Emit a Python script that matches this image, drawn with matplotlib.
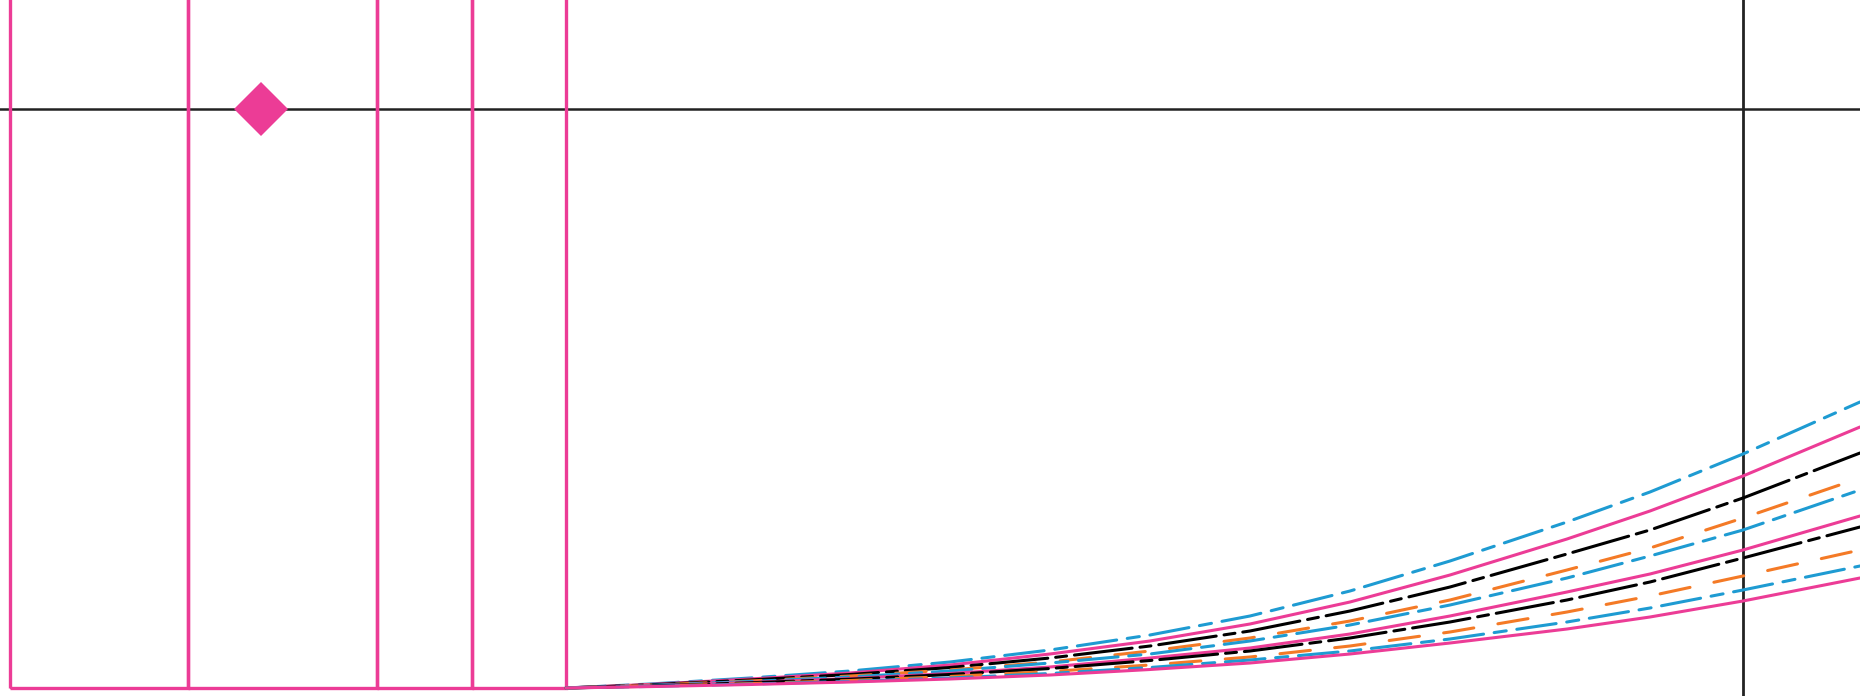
import numpy as np
import matplotlib
matplotlib.use("Agg")
import matplotlib.pyplot as plt

ROSA = "#EC3C96"
AZUL = "#1E9BD2"
LARANJA = "#F47A26"
PRETO = "#000000"
CINZA = "#222222"

# barras (bordas esquerdas e larguras), altura passa do topo do grafico
BAR_ESQ = [10, 188, 377, 472]
BAR_LARG = [178, 189, 95, 94]
BAR_ALT = [1000, 1000, 1000, 1000]

# linhas de referencia e ponto
REF_Y = 579
REF_X = 1743
PONTO_X = [261]
PONTO_Y = [579]

# eixo x das curvas
CURVA_X = [566, 650, 750, 850, 950, 1050, 1150, 1250, 1350, 1450, 1567, 1650, 1743, 1860]

AZUL_1 = [0, 4, 10, 17, 26, 38, 53, 72, 97, 127, 166, 196, 234, 286]
ROSA_1 = [0, 3.6, 9, 15, 23, 34, 47, 64, 86, 113, 149, 177, 212, 261]
PRETO_1 = [0, 3.2, 8, 13.5, 20.5, 30, 42, 57, 77, 101, 134, 158, 190, 235]
LARANJA_1 = [0, 2.8, 7, 12, 18, 26, 37, 50, 67, 88, 118, 140, 170, 210]
AZUL_2 = [0, 2.6, 6.5, 11, 17, 25, 34, 47, 63, 83, 110, 132, 158, 198]
ROSA_2 = [0, 2.2, 5.6, 9.5, 14.5, 21, 30, 40, 54, 72, 96, 114, 138, 172]
PRETO_2 = [0, 2, 5.2, 8.8, 13.5, 19.5, 27.5, 37, 50, 66, 88, 106, 130, 161]
LARANJA_2 = [0, 1.8, 4.4, 7.5, 11.5, 16.5, 23, 31, 42, 56, 76, 92, 112, 138]
AZUL_3 = [0, 1.6, 3.9, 6.6, 10, 14.5, 20.5, 28, 37, 49, 66, 80, 98, 122]
ROSA_3 = [0, 1.4, 3.5, 6, 9, 13, 18.5, 25, 34, 45, 59, 71, 87, 110]

# estilos de traco
EST_AZUL = (0, (13, 3.5, 4, 3.5))
EST_PRETO = (0, (19, 2.6, 3.6, 2.6))
EST_LARANJA = (0, (10, 8))

fig = plt.figure(figsize=(18.6, 6.96), dpi=100)
ax = fig.add_axes([0, 0, 1, 1])
ax.set_xlim(0, 1860)
ax.set_ylim(-8, 688)
ax.axis("off")

ax.axhline(REF_Y, color=CINZA, lw=1.8, zorder=1)
ax.axvline(REF_X, color=CINZA, lw=2.0, zorder=1)

ax.bar(BAR_ESQ, BAR_ALT, width=BAR_LARG, align="edge", bottom=0,
       fill=False, edgecolor=ROSA, linewidth=2.4, zorder=2)

curvas = [
    (AZUL_1, AZUL, EST_AZUL),
    (ROSA_1, ROSA, "-"),
    (PRETO_1, PRETO, EST_PRETO),
    (LARANJA_1, LARANJA, EST_LARANJA),
    (AZUL_2, AZUL, EST_AZUL),
    (ROSA_2, ROSA, "-"),
    (PRETO_2, PRETO, EST_PRETO),
    (LARANJA_2, LARANJA, EST_LARANJA),
    (AZUL_3, AZUL, EST_AZUL),
    (ROSA_3, ROSA, "-"),
]
for ys, cor, est in curvas:
    ax.plot(CURVA_X, ys, color=cor, linestyle=est, lw=2.2,
            solid_capstyle="round", dash_capstyle="round", zorder=3)

ax.plot(PONTO_X, PONTO_Y, marker="D", ms=27, color=ROSA, mew=0,
        linestyle="none", zorder=4)

fig.savefig("out.png", dpi=100)
